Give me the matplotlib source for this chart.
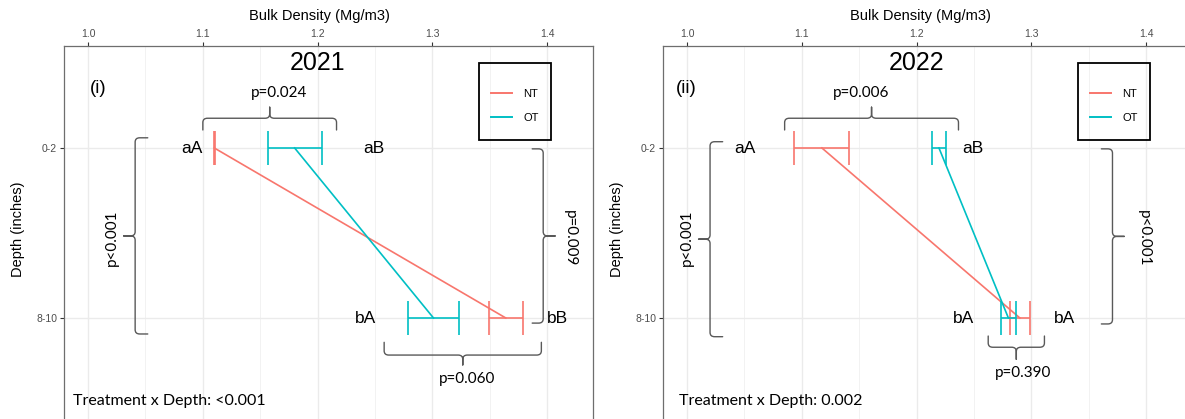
import matplotlib
matplotlib.use("Agg")
import matplotlib.pyplot as plt
from matplotlib.path import Path
from matplotlib.patches import PathPatch, Rectangle
from matplotlib.lines import Line2D

# ---- data ----
depth_labels = ["0-2", "8-10"]
treatments = ["NT", "OT"]
years = ["2021", "2022"]
panel_tags = ["(i)", "(ii)"]

nt_mean_2021 = [1.110, 1.364]
nt_se_2021 = [0.0005, 0.015]
ot_mean_2021 = [1.180, 1.301]
ot_se_2021 = [0.0235, 0.0225]

nt_mean_2022 = [1.1175, 1.290]
nt_se_2022 = [0.024, 0.0088]
ot_mean_2022 = [1.2195, 1.280]
ot_se_2022 = [0.0059, 0.0068]

letters_2021 = ["aA", "aB", "bA", "bB"]
letters_2022 = ["aA", "aB", "bA", "bA"]
p_top = ["p=0.024", "p=0.006"]
p_bottom = ["p=0.060", "p=0.390"]
p_left = ["p<0.001", "p<0.001"]
p_right = ["p=0.009", "p<0.001"]
interaction_p = ["<0.001", "0.002"]

colors = {"NT": "#F8766D", "OT": "#00BFC4"}
BRACE = "#595959"
CAL = ["Lato", "DejaVu Sans"]
ARIAL = ["Liberation Sans", "DejaVu Sans"]

W, H = 1185, 419


def brace(ax, a0, a1, pos, end, tip, vertical=False, rx=0.004, ry=0.025):
    # curly brace between a0 and a1 along one axis, body at pos
    c = (a0 + a1) / 2
    ra, rn = (ry, rx) if vertical else (rx, ry)
    se = 1 if end > pos else -1
    st = 1 if tip > pos else -1
    pts = [(a0, end), (a0, pos + se * rn), (a0, pos), (a0 + ra, pos),
           (c - ra, pos), (c, pos), (c, pos + st * rn), (c, tip),
           (c, pos + st * rn), (c, pos), (c + ra, pos),
           (a1 - ra, pos), (a1, pos), (a1, pos + se * rn), (a1, end)]
    codes = [Path.MOVETO, Path.LINETO, Path.CURVE3, Path.CURVE3,
             Path.LINETO, Path.CURVE3, Path.CURVE3, Path.LINETO,
             Path.LINETO, Path.CURVE3, Path.CURVE3,
             Path.LINETO, Path.CURVE3, Path.CURVE3, Path.LINETO]
    if vertical:
        pts = [(n, a) for a, n in pts]
    ax.add_patch(PathPatch(Path(pts, codes), fill=False, ec=BRACE, lw=1.0,
                           joinstyle="round", capstyle="round", zorder=4))


fig = plt.figure(figsize=(W / 100, H / 100), dpi=100)

panels = [
    dict(left=64, nt=(nt_mean_2021, nt_se_2021), ot=(ot_mean_2021, ot_se_2021),
         letters=letters_2021,
         lx=[(1.100, "right"), (1.240, "left"), (1.251, "right"), (1.400, "left")],
         tag_x=1.009, top=(1.100, 1.2165), top_p=1.166,
         bot=(1.258, 1.395, 2.218, 2.143, 2.276), bot_p=(1.330, 2.36),
         lbr=(0.94, 2.094, 1.041, 1.052, 1.031), lp=1.021,
         rbr=(1.005, 2.03, 1.3966, 1.387, 1.407), rp=1.420,
         inter_x=0.987, xlab=319),
    dict(left=663, nt=(nt_mean_2022, nt_se_2022), ot=(ot_mean_2022, ot_se_2022),
         letters=letters_2022,
         lx=[(1.060, "right"), (1.240, "left"), (1.250, "right"), (1.320, "left")],
         tag_x=0.999, top=(1.085, 1.2365), top_p=1.152,
         bot=(1.2624, 1.3114, 2.172, 2.106, 2.243), bot_p=(1.293, 2.325),
         lbr=(0.963, 2.11, 1.020, 1.031, 1.010), lp=1.000,
         rbr=(1.005, 2.035, 1.3707, 1.361, 1.381), rp=1.398,
         inter_x=0.993, xlab=920),
]

ypos = [1, 2]

for i, p in enumerate(panels):
    ax = fig.add_axes([p["left"] / W, (H - 420) / H, 529 / W, 374 / H])
    ax.set_xlim(0.979, 1.440)
    ax.set_ylim(2.6, 0.4)

    # grid like theme_bw
    ax.set_xticks([1.0, 1.1, 1.2, 1.3, 1.4])
    ax.set_xticks([1.05, 1.15, 1.25, 1.35], minor=True)
    ax.set_yticks(ypos)
    ax.set_yticklabels(depth_labels)
    ax.grid(True, which="major", color="#EBEBEB", lw=1.0, zorder=0)
    ax.grid(True, which="minor", axis="x", color="#F2F2F2", lw=0.7, zorder=0)
    ax.set_axisbelow(True)
    ax.xaxis.tick_top()
    ax.tick_params(axis="both", which="major", length=3, width=0.8, color="#333333",
                   labelsize=7.5, labelcolor="#4D4D4D", pad=2)
    ax.tick_params(axis="x", which="minor", length=0)
    for lab in ax.get_xticklabels() + ax.get_yticklabels():
        lab.set_family(ARIAL)
    for s in ax.spines.values():
        s.set_color("#6E6E6E")
        s.set_linewidth(0.9)

    for t in treatments:
        m, se = p["nt"] if t == "NT" else p["ot"]
        ax.errorbar(m, ypos, xerr=se, fmt="none", ecolor=colors[t], elinewidth=1.2,
                    capsize=11.9, capthick=1.2, zorder=3)
        ax.plot(m, ypos, color=colors[t], lw=1.2, zorder=3)

    # legend with box
    ax.add_patch(Rectangle((1.341, 0.5), 0.062, 0.453, fill=False, ec="black",
                           lw=1.3, zorder=5))
    handles = [Line2D([], [], color=colors[t], lw=1.4) for t in treatments]
    leg = ax.legend(handles, treatments, loc="center", bbox_to_anchor=(1.372, 0.753),
                    bbox_transform=ax.transData, frameon=False, fontsize=8,
                    handlelength=1.9, handletextpad=1.0, labelspacing=1.3,
                    prop={"family": ARIAL, "size": 8})

    # titles / tags
    ax.text(1.2, 0.5, years[i], ha="center", va="center", fontsize=18, family=ARIAL)
    ax.text(p["tag_x"], 0.65, panel_tags[i], ha="center", va="center", fontsize=13.5,
            family=ARIAL)

    # letters
    lpos = [(0, 1), (1, 1), (2, 2), (3, 2)]
    for (k, yy), (xx, ha) in zip(lpos, p["lx"]):
        ax.text(xx, yy, p["letters"][k], ha=ha, va="center", fontsize=12.5, family=ARIAL)

    # braces
    a0, a1 = p["top"]
    brace(ax, a0, a1, 0.825, 0.894, 0.760)
    ax.text(p["top_p"], 0.676, p_top[i], ha="center", va="center", fontsize=11,
            family=CAL)
    b0, b1, bp, be, bt = p["bot"]
    brace(ax, b0, b1, bp, be, bt)
    ax.text(p["bot_p"][0], p["bot_p"][1], p_bottom[i], ha="center", va="center",
            fontsize=11, family=CAL)
    l0, l1, lp_, le, lt = p["lbr"]
    brace(ax, l0, l1, lp_, le, lt, vertical=True)
    ax.text(p["lp"], 1.53, p_left[i], ha="center", va="center", rotation=90,
            fontsize=11, family=CAL)
    r0, r1, rp_, re_, rt = p["rbr"]
    brace(ax, r0, r1, rp_, re_, rt, vertical=True)
    ax.text(p["rp"], 1.53, p_right[i], ha="center", va="center", rotation=270,
            fontsize=11, family=CAL)

    ax.text(p["inter_x"], 2.488, "Treatment x Depth: " + interaction_p[i], ha="left",
            va="center", fontsize=11.5, family=CAL)

    # axis titles
    fig.text(p["xlab"] / W, 1 - 16 / H, "Bulk Density (Mg/m3)", ha="center",
             va="center", fontsize=10.5, family=ARIAL)
    fig.text((p["left"] - 46) / W, 1 - 229 / H, "Depth (inches)", ha="center",
             va="center", rotation=90, fontsize=10.5, family=ARIAL)

fig.savefig("out.png", dpi=100)
